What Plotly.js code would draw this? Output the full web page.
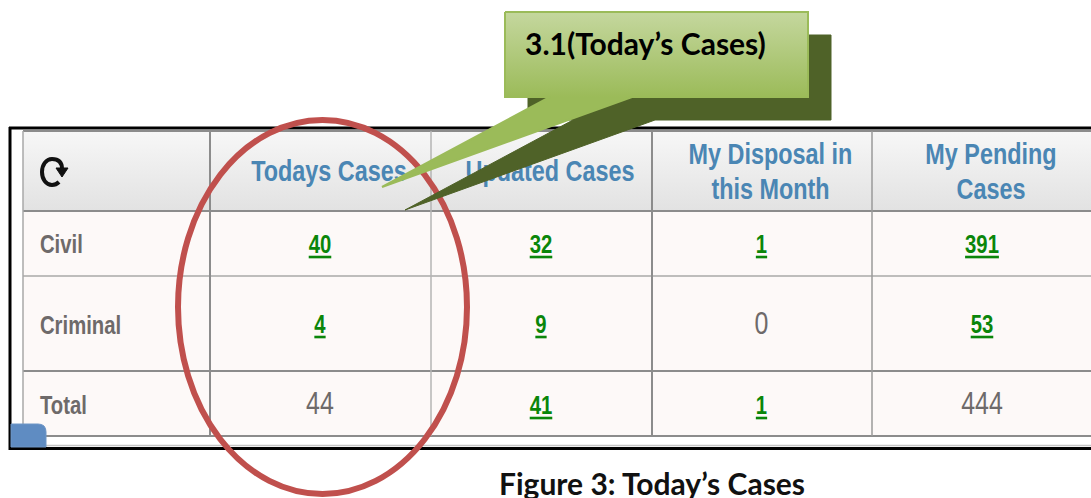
<!DOCTYPE html>
<html>
<head>
<meta charset="utf-8">
<script src="https://cdn.plot.ly/plotly-3.0.1.min.js"></script>
<style>html,body{margin:0;padding:0;background:#fff;overflow:hidden}#chart{width:1091px;height:498px}</style>
</head>
<body>
<div id="chart"></div>
<script>
// ---- Data ----
var columns = ["Todays Cases", "Updated Cases", "My Disposal in<br>this Month", "My Pending<br>Cases"];
var rowLabels = ["Civil", "Criminal", "Total"];
var civil = [40, 32, 1, 391];
var criminal = [4, 9, 0, 53];
var total = [44, 41, 1, 444];
// which cells are links (green, bold, underlined); the others are plain grey
var civilLinks = [true, true, true, true];
var criminalLinks = [true, true, false, true];
var totalLinks = [false, true, true, false];
var calloutLabel = "3.1(Today\u2019s Cases)";
var figureCaption = "Figure 3: Today\u2019s Cases";

// ---- Layout constants (page pixels) ----
var W = 1091, H = 498;
var colEdges = [23, 210, 431, 652, 872, 1093];
var rowEdges = [131, 211, 276, 371, 436];
var rowText = [247, 327, 408];
var rowTextPlain = [247, 326, 406];
var rowLabelY = [247, 328, 408];
var headerY = 174, headerLineGap = 35, headerShift = 9;
var narrow = '"Liberation Sans", Arial, sans-serif';
var narrowScale = 0.78;
var GREEN = '#0a860a', GREY = '#6e6a6a', BLUE = '#4a86b4';

function line(x0, y0, x1, y1, color, width) {
  return {type:'line', layer:'below', xref:'x', yref:'y', x0:x0, y0:y0, x1:x1, y1:y1, line:{color:color, width:width}};
}
function box(x0, y0, x1, y1, fill) {
  return {type:'rect', layer:'below', xref:'x', yref:'y', x0:x0, y0:y0, x1:x1, y1:y1, fillcolor:fill, line:{width:0}};
}

var shapes = [];
// body background of the table
shapes.push(box(colEdges[0], rowEdges[1], W + 2, rowEdges[4], '#fdf9f8'));
// horizontal rules
shapes.push(line(colEdges[0], rowEdges[0], W + 2, rowEdges[0], '#8c8c8c', 2));
shapes.push(line(colEdges[0], rowEdges[1], W + 2, rowEdges[1], '#8c8c8c', 2));
shapes.push(line(colEdges[0], rowEdges[2], W + 2, rowEdges[2], '#a9a9a9', 1.5));
shapes.push(line(colEdges[0], rowEdges[3], W + 2, rowEdges[3], '#8c8c8c', 2));
shapes.push(line(colEdges[0], rowEdges[4], W + 2, rowEdges[4], '#8c8c8c', 2));
shapes.push(line(colEdges[0], 445.5, W + 2, 445.5, '#c4c4c4', 1.5));
// vertical rules
shapes.push(line(colEdges[0], rowEdges[0], colEdges[0], 446, '#a8a8a8', 1.5));
shapes.push(line(colEdges[1], rowEdges[0], colEdges[1], rowEdges[4], '#8c8c8c', 2));
shapes.push(line(colEdges[2], rowEdges[0], colEdges[2], rowEdges[4], '#b4b4b4', 1.5));
shapes.push(line(colEdges[3], rowEdges[0], colEdges[3], rowEdges[4], '#8c8c8c', 2));
shapes.push(line(colEdges[4], rowEdges[0], colEdges[4], rowEdges[4], '#9a9a9a', 1.5));
// black frame
shapes.push(line(9, 128, W + 2, 128, '#000000', 3));
shapes.push(line(10, 127, 10, 450, '#000000', 3));
shapes.push(line(9, 448.5, W + 2, 448.5, '#000000', 3));
// blue tab in the lower-left corner
shapes.push({type:'path', layer:'below', xref:'x', yref:'y',
  path:'M 11 424 L 38 424 Q 46 424 46 432 L 46 447 L 11 447 Z',
  fillcolor:'#5f8cc2', line:{color:'#6f96c6', width:1}});
// refresh icon
shapes.push({type:'path', layer:'below', xref:'x', yref:'y',
  path:'M 59 182 C 57 184 55 185 52 185 C 46 185 42 179 42 172 C 42 165 46 159 52 159 C 58 159 62 162 62 169',
  fillcolor:'rgba(0,0,0,0)', line:{color:'#111111', width:4}});
shapes.push({type:'path', layer:'below', xref:'x', yref:'y',
  path:'M 56 168 L 68 168 L 62 177 Z', fillcolor:'#111111', line:{color:'#111111', width:1}});
// red ellipse, over the table
shapes.push({type:'circle', layer:'below', xref:'x', yref:'y', x0:178, y0:120, x1:467, y1:494,
  fillcolor:'rgba(0,0,0,0)', line:{color:'#c0504d', width:6}});

// header gradient as a background image below all the rules
var gradSvg = '<svg xmlns="http://www.w3.org/2000/svg" width="10" height="10" preserveAspectRatio="none">' +
  '<defs><linearGradient id="g" x1="0" y1="0" x2="0" y2="1"><stop offset="0" stop-color="#f7f7f7"/>' +
  '<stop offset="1" stop-color="#e2e2e2"/></linearGradient></defs><rect width="10" height="10" fill="url(#g)"/></svg>';
var images = [{
  source:'data:image/svg+xml;charset=utf-8,' + encodeURIComponent(gradSvg),
  xref:'paper', yref:'paper', x:colEdges[0] / W, y:1 - rowEdges[0] / H,
  sizex:(W - colEdges[0]) / W, sizey:(rowEdges[1] - rowEdges[0]) / H,
  sizing:'stretch', xanchor:'left', yanchor:'top', layer:'below'
}];

// ---- Table text, placed by column and row ----
var centers = [];
for (var c = 0; c < columns.length; c++) centers.push((colEdges[c + 1] + colEdges[c + 2]) / 2 - 0.5);

var traces = [];
// headers: one text point per line so that the line gap can be set
var hx = [], hy = [], ht = [];
columns.forEach(function (label, i) {
  var parts = label.split('<br>');
  parts.forEach(function (p, j) {
    hx.push(centers[i] + headerShift);
    hy.push(headerY + (j - (parts.length - 1) / 2) * headerLineGap);
    ht.push('<b>' + p + '</b>');
  });
});
traces.push({
  type:'scatter', mode:'text', hoverinfo:'skip', showlegend:false,
  x:hx, y:hy, text:ht, textposition:'middle center',
  textfont:{family:narrow, size:30, color:BLUE}
});
// row labels
traces.push({
  type:'scatter', mode:'text', hoverinfo:'skip', showlegend:false,
  x:[40, 40, 40], y:rowLabelY,
  text:rowLabels.map(function (t) { return '<b>' + t + '</b>'; }),
  textposition:'middle right',
  textfont:{family:narrow, size:26, color:GREY}
});
// cell values
[[civil, civilLinks], [criminal, criminalLinks], [total, totalLinks]].forEach(function (row, r) {
  var vals = row[0], links = row[1];
  traces.push({
    type:'scatter', mode:'text', hoverinfo:'skip', showlegend:false,
    x:centers,
    y:vals.map(function (v, i) { return links[i] ? rowText[r] : rowTextPlain[r]; }),
    text:vals.map(function (v, i) { return links[i] ? '<b><u>' + v + '</u></b>' : String(v); }),
    textposition:'middle center',
    textfont:{
      family:narrow,
      size:vals.map(function (v, i) { return links[i] ? 26 : 32; }),
      color:vals.map(function (v, i) { return links[i] ? GREEN : GREY; })
    }
  });
});

// ---- Callout: its shadow hides part of "Updated Cases" ----
var dx = 23, dy = 23;
var calloutX = [505, 808, 808, 632, 382, 550, 505, 505];
var calloutY = [12, 12, 97, 97, 187, 97, 97, 12];
traces.push({
  type:'scatter', mode:'lines', hoverinfo:'skip', showlegend:false,
  x:calloutX.map(function (v) { return v + dx; }),
  y:calloutY.map(function (v) { return v + dy; }),
  fill:'toself', fillcolor:'#4f6228', line:{color:'#4f6228', width:1}
});
traces.push({
  type:'scatter', mode:'lines', hoverinfo:'skip', showlegend:false,
  x:calloutX, y:calloutY, fill:'toself',
  fillgradient:{type:'vertical', start:12, stop:97, colorscale:[[0, '#c5d79e'], [1, '#9bbb59']]},
  line:{color:'#9bbb59', width:2}
});

var annotations = [
  {xref:'x', yref:'y', x:523, y:43, xanchor:'left', yanchor:'middle', showarrow:false,
   text:'<b>' + calloutLabel + '</b>', font:{family:'Lato, "Open Sans", sans-serif', size:30, color:'#000000'}},
  {xref:'x', yref:'y', x:652, y:483, xanchor:'center', yanchor:'middle', showarrow:false,
   text:'<b>' + figureCaption + '</b>', font:{family:'Lato, "Open Sans", sans-serif', size:30, color:'#111111'}}
];

var layout = {
  width:W, height:H,
  margin:{l:0, r:0, t:0, b:0, pad:0},
  paper_bgcolor:'#ffffff', plot_bgcolor:'#ffffff',
  showlegend:false,
  xaxis:{range:[0, W], visible:false, fixedrange:true},
  yaxis:{range:[H, 0], visible:false, fixedrange:true},
  shapes:shapes, images:images, annotations:annotations
};
Plotly.newPlot('chart', traces, layout, {displayModeBar:false, staticPlot:true}).then(function () {
  // the table's font is condensed: squeeze its text sideways about each anchor
  document.querySelectorAll('.scatterlayer .textpoint text').forEach(function (t) {
    var x = t.getAttribute('x'), y = t.getAttribute('y');
    var old = t.getAttribute('transform') || '';
    t.setAttribute('transform', 'translate(' + x + ',' + y + ') scale(' + narrowScale + ',1) translate(' + (-x) + ',' + (-y) + ') ' + old);
  });
});
</script>
</body>
</html>
